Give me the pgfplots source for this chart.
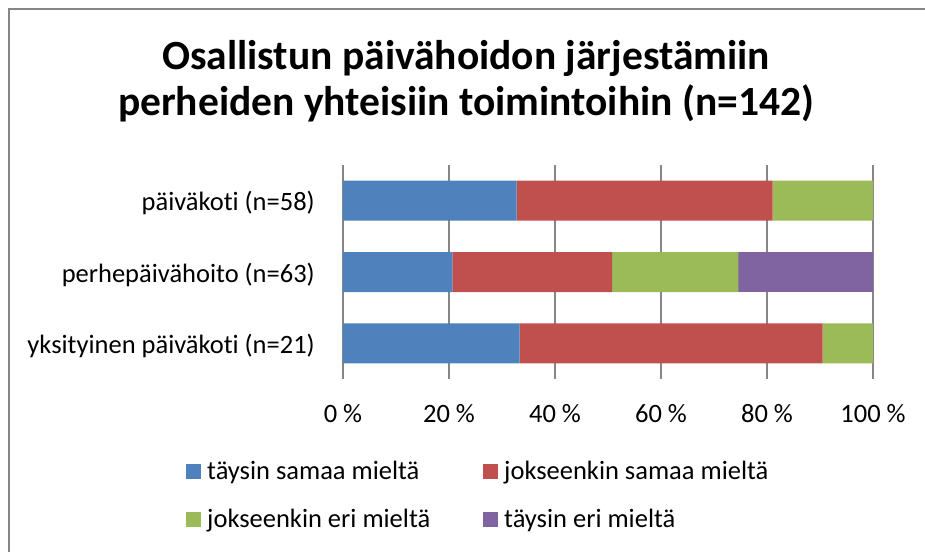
\documentclass[border=0pt]{standalone}
\usepackage{fontspec}
\setmainfont{Carlito}[Ligatures=NoCommon]
\usepackage{pgfplots}
\pgfplotsset{compat=1.18}
\definecolor{cblue}{RGB}{79,129,189}
\definecolor{cred}{RGB}{192,80,77}
\definecolor{cgreen}{RGB}{155,187,89}
\definecolor{cpurple}{RGB}{128,100,162}
\definecolor{cgrid}{RGB}{134,134,134}
\begin{document}
\begin{tikzpicture}[x=1pt,y=1pt]
\path[use as bounding box] (0,0) rectangle (925,551);
\draw[cgrid, line width=1.2pt] (9,-5) -- (9,542) -- (930,542);
\node[font=\bfseries\fontsize{41.5}{48}\selectfont, anchor=base] at (466,481.7) {Osallistun päivähoidon järjestämiin};
\node[font=\bfseries\fontsize{41.5}{48}\selectfont, anchor=base] at (466,435) {perheiden yhteisiin toimintoihin (n=142)};
\begin{axis}[
  at={(343pt,172pt)}, anchor=south west,
  scale only axis, width=530pt, height=214pt,
  xbar stacked, bar width=40pt,
  xmin=0, xmax=100, ymin=-0.5, ymax=2.5, y dir=reverse,
  enlargelimits=false,
  ytick={0,1,2},
  yticklabels={päiväkoti (n=58), perhepäivähoito (n=63), yksityinen päiväkoti (n=21)},
  xtick={0,20,40,60,80,100},
  xticklabels={0 \%,20 \%,40 \%,60 \%,80 \%,100 \%},
  tick label style={font=\fontsize{26.5}{31}\selectfont, inner sep=0pt},
  y tick label style={anchor=base east, xshift=-28pt, yshift=-10pt},
  x tick label style={anchor=base, yshift=-43pt},
  major tick length=0pt,
  axis line style={draw=none},
  xmajorgrids, grid style={cgrid, line width=1.2pt},
  legend columns=2,
  legend style={draw=none, inner sep=0pt, at={(-0.2962,-0.3645)}, anchor=north west,
    font=\fontsize{26.5}{31}\selectfont, column sep=6pt, row sep=20pt,
    nodes={inner sep=0pt, text height=22pt, text depth=6pt}},
  legend cell align=left,
  legend image code/.code={\fill[#1] (0pt,-7.5pt) rectangle (15pt,7.5pt);},
]
\addplot[fill=cblue, draw=none] coordinates {(32.76,0) (20.63,1) (33.33,2)};
\addplot[fill=cred, draw=none] coordinates {(48.28,0) (30.16,1) (57.14,2)};
\addplot[fill=cgreen, draw=none] coordinates {(18.97,0) (23.81,1) (9.52,2)};
\addplot[fill=cpurple, draw=none] coordinates {(0,0) (25.40,1) (0,2)};
\addlegendentry{\makebox[270pt][l]{täysin samaa mieltä}}
\addlegendentry{jokseenkin samaa mieltä}
\addlegendentry{\makebox[270pt][l]{jokseenkin eri mieltä}}
\addlegendentry{täysin eri mieltä}
\end{axis}
\end{tikzpicture}
\end{document}
